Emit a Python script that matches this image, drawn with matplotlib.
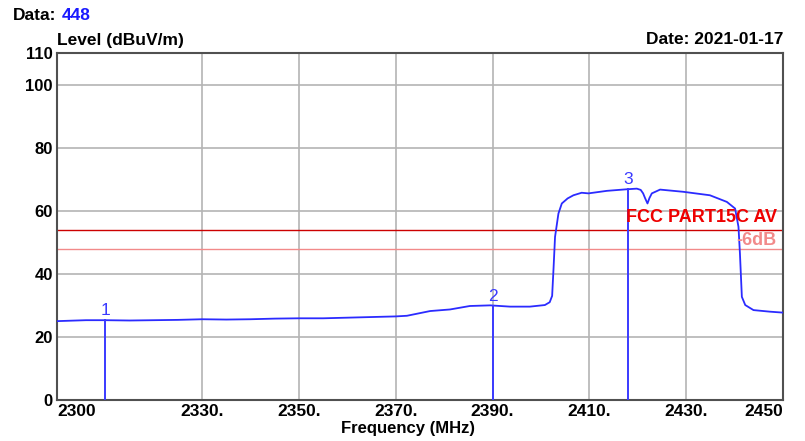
import numpy as np
import matplotlib
matplotlib.use("Agg")
from matplotlib import pyplot as plt

plt.rcParams["font.family"] = ["Liberation Sans", "DejaVu Sans"]
plt.rcParams["font.weight"] = "bold"

# measured trace (MHz, dBuV/m)
freq = [2300.0, 2302.0, 2306.0, 2310.0, 2315.0, 2320.0, 2325.0, 2330.0, 2335.0,
        2340.0, 2345.0, 2350.0, 2355.0, 2360.0, 2365.0, 2370.0, 2372.3, 2377.1,
        2381.2, 2385.3, 2389.5, 2393.6, 2397.7, 2400.8, 2401.8, 2402.3, 2402.6,
        2402.9, 2403.6, 2404.3, 2405.5, 2406.7, 2408.4, 2409.8, 2413.6, 2417.7,
        2419.8, 2420.6, 2421.1, 2421.5, 2422.0, 2422.4, 2422.9, 2424.6, 2429.4,
        2434.9, 2438.4, 2440.1, 2440.8, 2441.1, 2441.5, 2442.2, 2443.9, 2447.3,
        2450.0]
level = [25.0, 25.1, 25.3, 25.3, 25.2, 25.3, 25.4, 25.6, 25.5,
         25.6, 25.8, 25.9, 25.9, 26.1, 26.3, 26.5, 26.7, 28.2,
         28.7, 29.8, 30.0, 29.6, 29.6, 30.1, 31.0, 33.0, 42.0,
         51.7, 59.1, 62.3, 63.9, 64.9, 65.7, 65.5, 66.3, 66.8,
         67.0, 66.6, 65.5, 64.0, 62.3, 64.0, 65.5, 66.7, 66.0,
         64.9, 62.8, 60.7, 54.9, 46.5, 32.7, 30.1, 28.5, 28.0,
         27.7]

# marker frequencies and their labels
marker_freq = [2310.0, 2390.0, 2418.0]
marker_label = ["1", "2", "3"]

limit_av = 54.0
limit_margin = 6.0

xticks = [2300, 2330, 2350, 2370, 2390, 2410, 2430, 2450]
xtick_labels = ["2300", "2330.", "2350.", "2370.", "2390.", "2410.", "2430.", "2450"]
yticks = [0, 20, 40, 60, 80, 100, 110]

fig = plt.figure(figsize=(8.05, 4.41), dpi=100)
ax = fig.add_axes([57 / 805, 41 / 441, 726 / 805, 347 / 441])
ax.set_xlim(2300, 2450)
ax.set_ylim(0, 110)

ax.set_xticks(xticks)
ax.set_xticklabels(xtick_labels, fontsize=12.5, fontweight="bold")
ax.set_yticks(yticks)
ax.set_yticklabels([str(t) for t in yticks], fontsize=12, fontweight="bold")
ax.tick_params(length=0, pad=3)
lbls = ax.get_xticklabels()
lbls[0].set_horizontalalignment("left")
lbls[-1].set_horizontalalignment("right")

for x in xticks[1:-1]:
    ax.axvline(x, color="#b4b4b4", lw=1.2, zorder=1)
for y in [20, 40, 60, 80, 100]:
    ax.axhline(y, color="#b4b4b4", lw=1.2, zorder=1)

for s in ax.spines.values():
    s.set_color("#505050")
    s.set_linewidth(1.5)

ax.axhline(limit_av, color="#cc0000", lw=1.0, zorder=2)
ax.axhline(limit_av - limit_margin, color="#f28a8a", lw=1.0, zorder=2)
ax.text(2448.7, limit_av + 1.2, "FCC PART15C AV", color="#ee0000", fontsize=13,
        fontweight="bold", ha="right", va="bottom", zorder=4)
ax.text(2448.7, limit_av - 0.8, "-6dB", color="#f28a8a", fontsize=13,
        fontweight="bold", ha="right", va="top", zorder=4)

ax.plot(freq, level, color="#2b2bff", lw=1.3, zorder=3)

for f, lab in zip(marker_freq, marker_label):
    v = np.interp(f, freq, level)
    ax.plot([f, f], [0, v], color="#3a3aff", lw=1.4, zorder=3)
    ax.text(f, v + 0.6, lab, color="#3a3aff", fontsize=12.5, fontweight="normal",
            ha="center", va="bottom", zorder=4)

fig.text(13 / 805, 1 - 15 / 441, "Data:", fontsize=12.5, fontweight="bold",
         color="black", ha="left", va="center")
fig.text(62 / 805, 1 - 15 / 441, "448", fontsize=12.5, fontweight="bold",
         color="#1a1aff", ha="left", va="center")
fig.text(57 / 805, 1 - 40 / 441, "Level (dBuV/m)", fontsize=12.5, fontweight="bold",
         ha="left", va="center")
fig.text(783 / 805, 1 - 40 / 441, "Date: 2021-01-17", fontsize=12.5, fontweight="bold",
         ha="right", va="center")
fig.text(408 / 805, 1 - 428 / 441, "Frequency (MHz)", fontsize=12, fontweight="bold",
         ha="center", va="center")

fig.savefig("out.png", dpi=100)
